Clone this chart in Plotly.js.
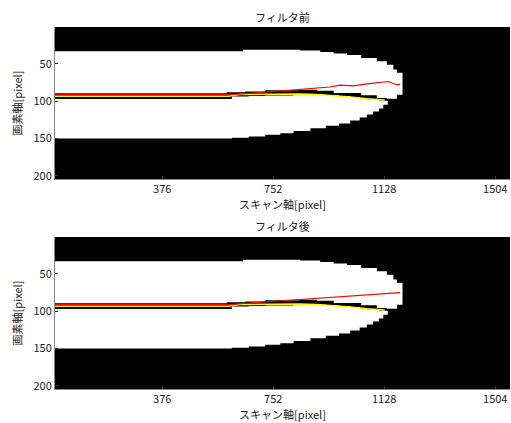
<!DOCTYPE html>
<html>
<head>
<meta charset="utf-8">
<script src="https://cdn.plot.ly/plotly-3.0.1.min.js"></script>
<style>html,body{margin:0;padding:0;background:#fff;}#chart{width:511px;height:423px;}</style>
</head>
<body>
<div id="chart"></div>
<script>
// ---- data ----
var titleBefore = 'フィルタ前';
var titleAfter = 'フィルタ後';
var xLabel = 'スキャン軸[pixel]';
var yLabel = '画素軸[pixel]';
var xTicks = [376, 752, 1128, 1504];
var yTicks = [50, 100, 150, 200];

// binary image: upper white region (columns, top edge, lower edge)
var upperX   = [13, 595, 650, 657, 725, 843, 900, 911, 957, 1002, 1050, 1103, 1137, 1159, 1171, 1190];
var upperTop = [33, 33, 31, 31, 31, 32, 32, 34, 36, 38, 42, 46.5, 51, 57.7, 62, 62];
var upperBot = [89.5, 88, 88, 86.9, 85.5, 84.6, 86, 86, 89.1, 89.1, 92.2, 95.8, 96.7, 96.7, 91.3, 91.3];

// lower white region (columns, top edge, bottom edge)
var lowerX   = [13, 612, 669, 725, 776, 821, 878, 930, 975, 1013, 1045, 1069, 1090, 1110, 1125, 1140];
var lowerTop = [97, 93.8, 93.2, 92.3, 92.3, 91.8, 91.5, 92, 93, 94.5, 96, 97.5, 98.5, 99, 99.5, 99.5];
var lowerBot = [150, 149.2, 147.4, 145.2, 143, 140, 136.5, 133, 130, 126, 122, 118, 114, 110, 105, 105];

// detected lines
var yellowX = [13, 600, 640, 720, 843, 900, 956, 1013, 1069, 1115, 1130];
var yellowY = [93.3, 93.3, 91.2, 90.6, 90.4, 91.2, 92.6, 94.6, 96.8, 98.5, 98.6];

var redBeforeX = [13, 600, 660, 731, 790, 832, 889, 945, 979, 1024, 1069, 1115, 1143, 1154, 1171, 1182];
var redBeforeY = [91.2, 91.2, 89.9, 87.5, 85.4, 84, 82.3, 81, 78.5, 79.5, 76.8, 75, 73.6, 75.8, 77.9, 77.5];

var redAfterX = [13, 600, 731, 843, 956, 1069, 1182];
var redAfterY = [91.2, 91.2, 87.3, 84.2, 81, 77.6, 75.2];

// ---- build traces ----
function panel(xa, ya, redX, redY) {
  var common = {xaxis: xa, yaxis: ya, mode: 'lines', hoverinfo: 'skip', showlegend: false};
  return [
    Object.assign({}, common, {x: upperX, y: upperBot, line: {width: 0, shape: 'hv'}}),
    Object.assign({}, common, {x: upperX, y: upperTop, line: {width: 0, shape: 'hv'}, fill: 'tonexty', fillcolor: '#ffffff'}),
    Object.assign({}, common, {x: lowerX, y: lowerTop, line: {width: 0, shape: 'hv'}}),
    Object.assign({}, common, {x: lowerX, y: lowerBot, line: {width: 0, shape: 'hv'}, fill: 'tonexty', fillcolor: '#ffffff'}),
    Object.assign({}, common, {x: yellowX, y: yellowY, line: {width: 1.5, color: '#ffff00'}}),
    Object.assign({}, common, {x: redX, y: redY, line: {width: 1.1, color: '#ff0000'}})
  ];
}

var data = panel('x', 'y', redBeforeX, redBeforeY).concat(panel('x2', 'y2', redAfterX, redAfterY));

var fnt = {family: '"Noto Sans CJK JP", "Noto Sans", sans-serif', size: 11, color: '#222'};

function xAxis(anchor) {
  return {
    anchor: anchor, domain: [0, 1], range: [13, 1554],
    tickvals: xTicks, ticktext: xTicks.map(String),
    ticks: 'inside', ticklen: 3, tickcolor: '#333',
    showline: true, linecolor: '#888', linewidth: 1,
    showgrid: false, zeroline: false, tickfont: fnt,
    title: {text: xLabel, font: fnt, standoff: 6}
  };
}
function yAxis(anchor, dom) {
  return {
    anchor: anchor, domain: dom, range: [204.5, 0.5],
    tickvals: yTicks, ticktext: yTicks.map(String),
    ticks: 'inside', ticklen: 3, tickcolor: '#333',
    showline: true, linecolor: '#888', linewidth: 1,
    showgrid: false, zeroline: false, tickfont: fnt,
    title: {text: yLabel, font: fnt, standoff: 8}
  };
}

var layout = {
  width: 511, height: 423,
  margin: {l: 55, r: 1, t: 27, b: 34},
  paper_bgcolor: '#ffffff', plot_bgcolor: '#000000',
  showlegend: false,
  xaxis: xAxis('y'), yaxis: yAxis('x', [0.5801, 1]),
  xaxis2: xAxis('y2'), yaxis2: yAxis('x2', [0, 0.4199]),
  annotations: [
    {text: titleBefore, xref: 'paper', yref: 'paper', x: 0.5, y: 1.0276, xanchor: 'center', yanchor: 'middle', showarrow: false, font: fnt},
    {text: titleAfter, xref: 'paper', yref: 'paper', x: 0.5, y: 0.4503, xanchor: 'center', yanchor: 'middle', showarrow: false, font: fnt}
  ]
};

Plotly.newPlot('chart', data, layout, {staticPlot: true, displayModeBar: false});
</script>
</body>
</html>
